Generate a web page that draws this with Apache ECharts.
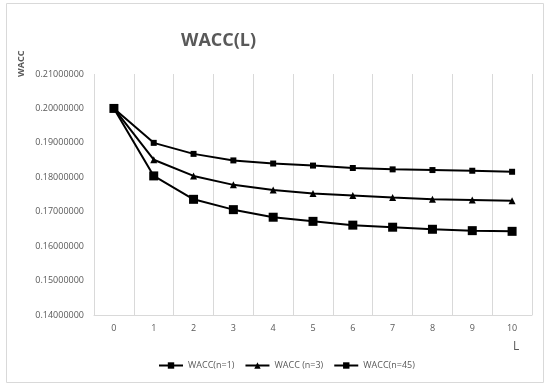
<!DOCTYPE html>
<html><head><meta charset="utf-8">
<script src="https://cdn.jsdelivr.net/npm/echarts@6/dist/echarts.min.js"></script>
<style>html,body{margin:0;padding:0;background:#fff}#c{width:550px;height:389px}</style>
</head><body><div id="c"></div>
<script>
const categories = ['0','1','2','3','4','5','6','7','8','9','10'];
const wacc_n1 = [0.2000,0.1900,0.1868,0.1849,0.1840,0.1834,0.1827,0.1823,0.1821,0.1819,0.1816];
const wacc_n3 = [0.2000,0.1851,0.1804,0.1778,0.1763,0.1753,0.1747,0.1741,0.1736,0.1734,0.1732];
const wacc_n45 = [0.2000,0.1804,0.1736,0.1706,0.1684,0.1672,0.1661,0.1655,0.1649,0.1645,0.1643];
const seriesNames = ['WACC(n=1)','WACC (n=3)','WACC(n=45)'];
const yMin = 0.14, yMax = 0.21, yStep = 0.01;

const chart = echarts.init(document.getElementById('c'), null, {renderer:'canvas'});
const font = 'Open Sans';
const grey = '#595959';
function mk(name, data, symbol, size){
  return {name, type:'line', data, symbol, symbolSize:size, showSymbol:true,
    lineStyle:{color:'#000', width:2}, itemStyle:{color:'#000'}, emphasis:{disabled:true}, animation:false};
}
chart.setOption({
  animation:false,
  title:{text:'WACC(L)', left:176, top:27, textStyle:{fontFamily:font, fontSize:18, fontWeight:'bold', color:grey}},
  graphic:[
    {type:'rect', shape:{x:6.5,y:3.5,width:537,height:379}, style:{fill:'none', stroke:'#d9d9d9', lineWidth:1}, z:-1},
    {type:'text', x:17, y:77, rotation:Math.PI/2, style:{text:'WACC', font:'bold 9px "Open Sans"', fill:grey}},
    {type:'text', x:513, y:341, style:{text:'L', font:'12px "Open Sans"', fill:grey}}
  ],
  legend:{left:153, top:356, itemWidth:24, itemHeight:8, itemGap:10,
    textStyle:{fontFamily:font, fontSize:9, color:grey},
    data:seriesNames},
  grid:{left:94, right:18, top:74, bottom:74},
  xAxis:{type:'category', data:categories, boundaryGap:true,
    axisLine:{lineStyle:{color:'#d9d9d9'}}, axisTick:{show:false},
    axisLabel:{fontFamily:font, fontSize:9, color:grey, margin:9},
    splitLine:{show:true, lineStyle:{color:'#d9d9d9'}}},
  yAxis:{type:'value', min:yMin, max:yMax, interval:yStep,
    axisLine:{show:false}, axisTick:{show:false}, splitLine:{show:false},
    axisLabel:{fontFamily:font, fontSize:9, color:grey, margin:10, formatter:v=>v.toFixed(8)}},
  series:[
    mk(seriesNames[0], wacc_n1, 'rect', 6),
    mk(seriesNames[1], wacc_n3, 'triangle', 7),
    mk(seriesNames[2], wacc_n45, 'rect', 9)
  ]
});
</script></body></html>
